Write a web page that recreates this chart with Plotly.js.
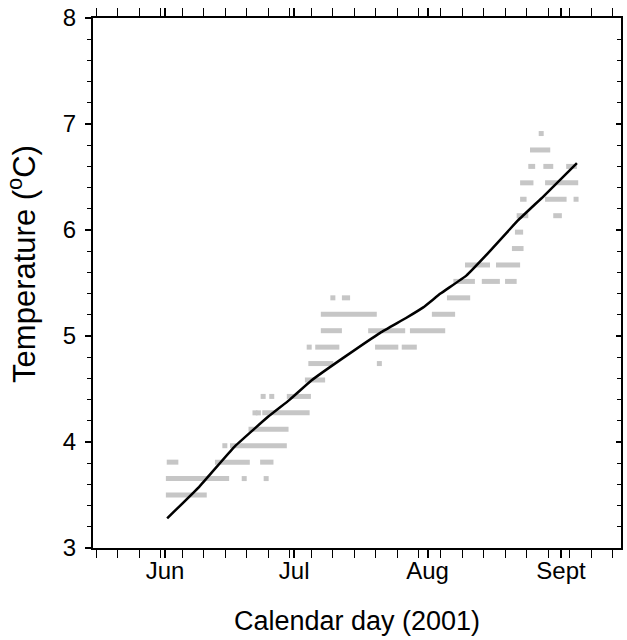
<!DOCTYPE html>
<html>
<head>
<meta charset="utf-8">
<script src="https://cdn.plot.ly/plotly-3.0.1.min.js"></script>
<style>html,body{margin:0;padding:0;background:#fff;}</style>
</head>
<body>
<div id="chart" style="width:627px;height:640px;"></div>
<script>
// Day of year (2001) for month ticks
const monthTickDays = [152, 182, 213, 244];
const monthTickLabels = ['Jun', 'Jul', 'Aug', 'Sept'];

// Logged temperatures: quantized levels (°C), runs of readings from startDay to endDay
const dashLevel = [3.50, 3.655, 3.81, 3.81, 3.81, 3.965, 4.12, 4.275, 4.43, 4.585, 4.74,
  4.895, 4.895, 4.895, 5.05, 5.05, 5.05, 5.205, 5.205, 5.36, 5.36,
  5.515, 5.515, 5.515, 5.67, 5.67, 5.825, 5.98, 6.135, 6.135,
  6.29, 6.29, 6.445, 6.445, 6.60, 6.60, 6.60, 6.755];
const dashStart = [152.2, 152.2, 152.4, 163.6, 174.1, 167.1, 171.4, 174.6, 180.3, 184.5, 185.3,
  186.9, 200.8, 207.0, 188.2, 199.2, 208.9, 188.2, 214.0, 193.1, 217.5,
  219.0, 225.6, 231.0, 221.7, 228.9, 232.6, 233.3, 233.7, 242.2,
  234.5, 240.3, 234.5, 240.3, 236.4, 239.9, 245.2, 236.8];
const dashEnd = [161.7, 166.9, 155.1, 171.7, 177.2, 180.3, 180.7, 185.6, 185.9, 189.2, 191.1,
  192.5, 206.2, 210.5, 193.1, 207.8, 217.1, 201.2, 219.4, 195.0, 222.9,
  224.0, 229.8, 233.7, 227.5, 234.5, 235.3, 235.2, 236.4, 244.2,
  236.0, 245.3, 237.6, 248.0, 238.0, 242.2, 247.7, 241.5];

// Isolated readings
const dotLevel = [3.655, 3.655, 3.965, 4.275, 4.275, 4.43, 4.43, 4.74, 4.895, 5.36, 6.29, 6.91];
const dotDay = [170.4, 175.5, 165.9, 172.9, 173.7, 174.8, 176.8, 201.8, 185.5, 191.0, 247.5, 239.4];

// Smoothed seasonal trend
const fitDay = [152.5, 160, 168, 176, 181, 186, 194, 202, 208, 212, 216, 222, 227, 234, 240, 247.7];
const fitTemp = [3.28, 3.58, 3.95, 4.24, 4.40, 4.58, 4.81, 5.03, 5.17, 5.27, 5.40, 5.57, 5.78, 6.09, 6.32, 6.63];

const segX = [], segY = [];
for (let i = 0; i < dashLevel.length; i++) {
  segX.push(dashStart[i], dashEnd[i], null);
  segY.push(dashLevel[i], dashLevel[i], null);
}

const gray = '#c6c6c6';
const FONT = 'Liberation Sans, Arial, Helvetica, sans-serif';

const traces = [
  { x: segX, y: segY, mode: 'lines', line: { color: gray, width: 5 }, hoverinfo: 'skip', showlegend: false },
  { x: dotDay, y: dotLevel, mode: 'markers', marker: { color: gray, size: 5, symbol: 'square' }, hoverinfo: 'skip', showlegend: false },
  { x: fitDay, y: fitTemp, mode: 'lines', line: { color: '#000', width: 2.5, shape: 'spline', smoothing: 0.3 }, showlegend: false },
  { x: [null], y: [null], yaxis: 'y2', mode: 'lines', showlegend: false, hoverinfo: 'skip' }
];

const layout = {
  width: 627, height: 640,
  margin: { l: 93, r: 6, t: 18, b: 92 },
  paper_bgcolor: '#fff', plot_bgcolor: '#fff',
  font: { family: FONT, color: '#000' },
  showlegend: false,
  xaxis: {
    range: [135.27, 257.94],
    tickmode: 'array', tickvals: monthTickDays, ticktext: monthTickLabels,
    ticks: 'outside', ticklen: 8, tickwidth: 2, tickcolor: '#000',
    showline: true, linewidth: 2, linecolor: '#000', mirror: 'allticks',
    showgrid: false, zeroline: false,
    tickfont: { size: 24, family: FONT, color: '#000' },
    ticklabelstandoff: -8,
    minor: { tickmode: 'linear', tick0: 1, dtick: 5, ticks: 'outside', ticklen: 4, tickwidth: 1, tickcolor: '#000', showgrid: false },
    title: { text: 'Calendar day (2001)', font: { size: 27, family: FONT, color: '#000' }, standoff: 28 }
  },
  yaxis: {
    range: [3, 8], tickmode: 'linear', tick0: 3, dtick: 1,
    ticks: 'outside', ticklen: 6, tickwidth: 1.5, tickcolor: '#000',
    showline: true, linewidth: 2, linecolor: '#000', mirror: true,
    showgrid: false, zeroline: false,
    tickfont: { size: 24, family: FONT, color: '#000' },
    ticklabelstandoff: 4,
    minor: { tickmode: 'linear', tick0: 3, dtick: 0.2, ticks: 'outside', ticklen: 4, tickwidth: 1, tickcolor: '#000', showgrid: false }
  },
  yaxis2: {
    overlaying: 'y', side: 'right', range: [3, 8], tickmode: 'linear', tick0: 3, dtick: 1,
    ticks: 'inside', ticklen: 5, tickwidth: 1.5, tickcolor: '#000',
    showticklabels: false, showline: false, showgrid: false, zeroline: false,
    minor: { tickmode: 'linear', tick0: 3, dtick: 0.2, ticks: 'inside', ticklen: 4, tickwidth: 1, tickcolor: '#000', showgrid: false }
  },
  annotations: [{
    text: 'Temperature (<sup>o</sup>C)', textangle: -90, showarrow: false,
    xref: 'paper', yref: 'paper', x: -0.1345, y: 0.536, xanchor: 'center', yanchor: 'middle',
    font: { size: 31, family: FONT, color: '#000' }
  }]
};

Plotly.newPlot('chart', traces, layout, { displayModeBar: false, staticPlot: true });
</script>
</body>
</html>
